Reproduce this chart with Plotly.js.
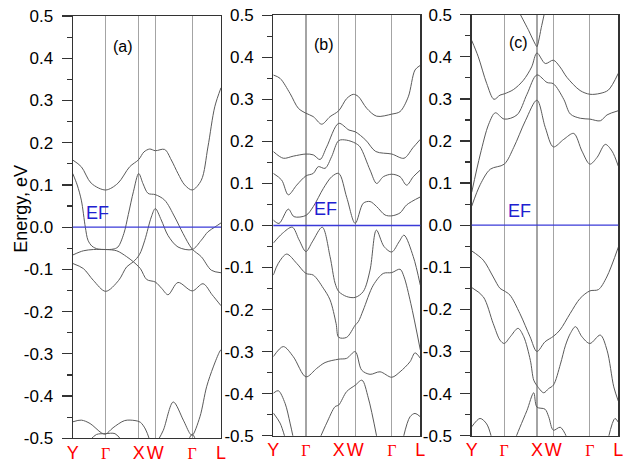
<!DOCTYPE html>
<html>
<head>
<meta charset="utf-8">
<script src="https://cdn.plot.ly/plotly-3.0.1.min.js"></script>
<style>html,body{margin:0;padding:0;background:#fff;}#plot{width:628px;height:464px;}</style>
</head>
<body>
<div id="plot"></div>
<script>
// High-symmetry points along the path (fraction of path length) and their labels
const kSym = [0, 0.222, 0.445, 0.557, 0.806, 1];
const kLabels = ['Y', 'Γ', 'X', 'W', 'Γ', 'L'];
const eTicks = [-0.5, -0.4, -0.3, -0.2, -0.1, 0.0, 0.1, 0.2, 0.3, 0.4, 0.5];
const eTickText = ['-0.5', '-0.4', '-0.3', '-0.2', '-0.1', '0.0', '0.1', '0.2', '0.3', '0.4', '0.5'];
const panelLabels = ['(a)', '(b)', '(c)'];
const fermiLevel = 0.0;

// ---- Panel (a) bands ----
const a1k = [0, 0.058, 0.125, 0.222, 0.305, 0.384, 0.445, 0.48, 0.519, 0.557, 0.620, 0.665, 0.710, 0.755, 0.806, 0.867, 0.912, 0.958, 1];
const a1e = [0.159, 0.143, 0.104, 0.088, 0.104, 0.143, 0.160, 0.178, 0.185, 0.181, 0.184, 0.159, 0.127, 0.100, 0.088, 0.111, 0.19, 0.285, 0.33];
const a2k = [0, 0.03, 0.058, 0.085, 0.103, 0.13, 0.171, 0.222, 0.272, 0.305, 0.345, 0.375, 0.41, 0.445, 0.474, 0.508, 0.557, 0.620, 0.688, 0.744, 0.806, 0.867, 0.935, 1];
const a2e = [0.127, 0.10, 0.064, 0.0, -0.031, -0.045, -0.052, -0.053, -0.052, -0.047, -0.015, 0.03, 0.085, 0.127, 0.103, 0.08, 0.077, 0.064, 0.024, -0.015, -0.052, -0.070, -0.102, -0.108];
const a3k = [0, 0.0715, 0.139, 0.222, 0.297, 0.364, 0.409, 0.456, 0.499, 0.557, 0.60, 0.643, 0.71, 0.806, 0.879, 0.94, 1];
const a3e = [-0.066, -0.056, -0.053, -0.053, -0.056, -0.070, -0.082, -0.098, -0.124, -0.130, -0.145, -0.160, -0.131, -0.151, -0.134, -0.16, -0.186];
const a4k = [0, 0.0715, 0.139, 0.222, 0.31, 0.364, 0.409, 0.45, 0.486, 0.530, 0.557, 0.597, 0.643, 0.710, 0.806, 0.867, 0.912, 0.958, 1];
const a4e = [-0.086, -0.098, -0.126, -0.152, -0.126, -0.094, -0.082, -0.065, -0.031, 0.024, 0.044, 0.017, -0.02, -0.047, -0.053, -0.031, -0.011, 0.0, 0.01];
const a5k = [0, 0.058, 0.117, 0.193, 0.222, 0.272, 0.351, 0.42, 0.456, 0.49, 0.52];
const a5e = [-0.461, -0.457, -0.465, -0.487, -0.49, -0.475, -0.458, -0.458, -0.462, -0.478, -0.505];
const a6k = [0.115, 0.16, 0.222, 0.285, 0.33];
const a6e = [-0.505, -0.491, -0.489, -0.489, -0.505];
const a7k = [0.575, 0.611, 0.678, 0.746, 0.791, 0.806, 0.858, 0.903, 0.948, 0.989, 1];
const a7e = [-0.505, -0.481, -0.414, -0.457, -0.489, -0.493, -0.449, -0.378, -0.331, -0.296, -0.29];
const a8k = [0.78, 0.806, 0.83];
const a8e = [-0.505, -0.49, -0.505];

// ---- Panel (b) bands ----
const b1k = [0, 0.046, 0.114, 0.170, 0.222, 0.272, 0.329, 0.386, 0.445, 0.499, 0.544, 0.578, 0.635, 0.703, 0.806, 0.862, 0.918, 0.964, 1];
const b1e = [0.358, 0.350, 0.314, 0.279, 0.267, 0.259, 0.241, 0.259, 0.273, 0.302, 0.312, 0.307, 0.279, 0.260, 0.265, 0.271, 0.306, 0.370, 0.381];
const b2k = [0, 0.068, 0.136, 0.222, 0.272, 0.318, 0.363, 0.445, 0.515, 0.557, 0.629, 0.697, 0.806, 0.889, 0.95, 1];
const b2e = [0.176, 0.160, 0.165, 0.170, 0.168, 0.157, 0.187, 0.243, 0.227, 0.223, 0.203, 0.176, 0.170, 0.160, 0.185, 0.205];
const b3k = [0, 0.057, 0.102, 0.159, 0.222, 0.272, 0.306, 0.352, 0.397, 0.445, 0.499, 0.557, 0.590, 0.658, 0.703, 0.748, 0.806, 0.862, 0.907, 0.952, 1];
const b3e = [0.124, 0.108, 0.073, 0.096, 0.118, 0.124, 0.140, 0.136, 0.164, 0.202, 0.203, 0.196, 0.187, 0.132, 0.100, 0.116, 0.122, 0.116, 0.096, 0.116, 0.132];
const b4k = [0, 0.039, 0.102, 0.141, 0.222, 0.272, 0.340, 0.397, 0.445, 0.50, 0.557, 0.612, 0.658, 0.703, 0.760, 0.806, 0.862, 0.907, 1];
const b4e = [0.013, 0.005, 0.039, 0.021, 0.024, 0.045, 0.088, 0.116, 0.124, 0.066, 0.005, 0.053, 0.057, 0.045, 0.025, 0.023, 0.030, 0.049, 0.068];
const b5k = [0, 0.061, 0.129, 0.175, 0.222, 0.265, 0.333, 0.386, 0.420, 0.445, 0.499, 0.557, 0.612, 0.658, 0.701, 0.753, 0.806, 0.855, 0.889, 0.952, 1];
const b5e = [-0.042, -0.019, -0.004, -0.034, -0.062, -0.039, -0.004, -0.074, -0.137, -0.157, -0.169, -0.171, -0.157, -0.106, -0.011, -0.050, -0.063, -0.039, -0.023, -0.074, -0.142];
const b6k = [0, 0.034, 0.091, 0.159, 0.222, 0.272, 0.340, 0.386, 0.427, 0.445, 0.499, 0.557, 0.578, 0.612, 0.680, 0.748, 0.806, 0.862, 0.889, 0.935, 1];
const b6e = [-0.118, -0.090, -0.068, -0.090, -0.114, -0.118, -0.149, -0.177, -0.233, -0.266, -0.266, -0.237, -0.229, -0.201, -0.142, -0.114, -0.112, -0.104, -0.122, -0.185, -0.296];
const b7k = [0, 0.068, 0.136, 0.222, 0.295, 0.352, 0.445, 0.499, 0.557, 0.601, 0.658, 0.726, 0.806, 0.862, 0.930, 0.964, 1];
const b7e = [-0.312, -0.288, -0.312, -0.360, -0.340, -0.326, -0.318, -0.316, -0.300, -0.344, -0.354, -0.348, -0.361, -0.348, -0.324, -0.303, -0.316];
const b8k = [0, 0.034, 0.080, 0.114, 0.136];
const b8e = [-0.399, -0.393, -0.423, -0.470, -0.505];
const b9k = [0, 0.046, 0.08];
const b9e = [-0.446, -0.470, -0.505];
const b10k = [0.318, 0.363, 0.420, 0.445, 0.499, 0.557, 0.603, 0.646, 0.705];
const b10e = [-0.505, -0.470, -0.431, -0.427, -0.395, -0.380, -0.368, -0.41, -0.505];
const b11k = [0.884, 0.930, 0.964, 1];
const b11e = [-0.505, -0.455, -0.447, -0.455];

// ---- Panel (c) bands ----
const c1k = [0, 0.045, 0.102, 0.152, 0.193, 0.222, 0.284, 0.352, 0.409, 0.445, 0.502, 0.557, 0.602, 0.650, 0.739, 0.806, 0.875, 0.932, 1];
const c1e = [0.439, 0.400, 0.337, 0.299, 0.309, 0.312, 0.322, 0.344, 0.376, 0.409, 0.384, 0.392, 0.376, 0.351, 0.320, 0.311, 0.313, 0.321, 0.361];
const c2k = [0, 0.059, 0.116, 0.161, 0.222, 0.309, 0.377, 0.445, 0.514, 0.557, 0.628, 0.673, 0.741, 0.806, 0.877, 0.923, 1];
const c2e = [0.078, 0.169, 0.240, 0.267, 0.252, 0.262, 0.311, 0.357, 0.339, 0.336, 0.299, 0.264, 0.254, 0.252, 0.248, 0.262, 0.272];
const c3k = [0, 0.059, 0.127, 0.222, 0.287, 0.366, 0.445, 0.502, 0.557, 0.628, 0.696, 0.752, 0.806, 0.855, 0.911, 0.957, 1];
const c3e = [0.045, 0.097, 0.133, 0.145, 0.185, 0.248, 0.297, 0.232, 0.186, 0.204, 0.218, 0.176, 0.145, 0.161, 0.192, 0.176, 0.140];
const c4k = [0.325, 0.385, 0.445, 0.475, 0.50];
const c4e = [0.505, 0.465, 0.424, 0.47, 0.51];
const c5k = [0, 0.079, 0.147, 0.193, 0.222, 0.261, 0.329, 0.398, 0.445, 0.500, 0.557, 0.602, 0.671, 0.739, 0.806, 0.864, 0.921, 1];
const c5e = [-0.061, -0.083, -0.123, -0.150, -0.156, -0.166, -0.210, -0.265, -0.300, -0.277, -0.264, -0.249, -0.210, -0.174, -0.156, -0.153, -0.123, -0.052];
const c6k = [0, 0.079, 0.147, 0.193, 0.222, 0.263, 0.316, 0.355, 0.400, 0.423, 0.445, 0.491, 0.525, 0.557, 0.605, 0.640, 0.673, 0.708, 0.752, 0.806, 0.877, 0.923, 0.969, 1];
const c6e = [-0.148, -0.170, -0.234, -0.273, -0.281, -0.265, -0.245, -0.265, -0.321, -0.368, -0.381, -0.398, -0.388, -0.380, -0.33, -0.285, -0.257, -0.241, -0.265, -0.281, -0.261, -0.297, -0.384, -0.418];
const c7k = [0.30, 0.329, 0.377, 0.423, 0.445, 0.50, 0.525, 0.557, 0.604, 0.65];
const c7e = [-0.505, -0.48, -0.44, -0.398, -0.432, -0.437, -0.455, -0.487, -0.48, -0.505];
const c8k = [0, 0.057, 0.102, 0.136];
const c8e = [-0.479, -0.459, -0.472, -0.505];
const c9k = [0.932, 0.977, 1];
const c9e = [-0.505, -0.459, -0.468];

const panels = [
  {xa: 'x', ya: 'y', bands: [[a1k,a1e],[a2k,a2e],[a3k,a3e],[a4k,a4e],[a5k,a5e],[a6k,a6e],[a7k,a7e],[a8k,a8e]]},
  {xa: 'x2', ya: 'y2', bands: [[b1k,b1e],[b2k,b2e],[b3k,b3e],[b4k,b4e],[b5k,b5e],[b6k,b6e],[b7k,b7e],[b8k,b8e],[b9k,b9e],[b10k,b10e],[b11k,b11e]]},
  {xa: 'x3', ya: 'y3', bands: [[c1k,c1e],[c2k,c2e],[c3k,c3e],[c5k,c5e],[c6k,c6e],[c7k,c7e],[c8k,c8e],[c9k,c9e]], linear: [[c4k,c4e]]}
];

const bandColor = '#5a5a5a';
const traces = [];
panels.forEach(p => {
  p.bands.forEach(b => {
    traces.push({x: b[0], y: b[1], xaxis: p.xa, yaxis: p.ya, type: 'scatter', mode: 'lines',
      line: {color: bandColor, width: 1, shape: 'spline', smoothing: 0.9}, hoverinfo: 'skip', showlegend: false});
  });
  (p.linear || []).forEach(b => {
    traces.push({x: b[0], y: b[1], xaxis: p.xa, yaxis: p.ya, type: 'scatter', mode: 'lines',
      line: {color: bandColor, width: 1, shape: 'spline', smoothing: 0.4}, hoverinfo: 'skip', showlegend: false});
  });
});

const FONT = 'Liberation Sans, Arial, sans-serif';
const frameColor = '#333';
const tickTextX = kLabels.map(s => s === 'Γ' ? '<span style="font-family:Liberation Serif, Times New Roman, serif;font-size:16px">Γ</span>' : s);

function xAxis(domain, anchor) {
  return {domain: domain, anchor: anchor, range: [0, 1], tickmode: 'array', tickvals: kSym, ticktext: tickTextX,
    ticks: '', tickangle: 0, ticklabelstandoff: -2, showgrid: true, gridcolor: '#a4a4a4', gridwidth: 1.2, zeroline: false,
    showline: true, linecolor: frameColor, linewidth: 1.2, mirror: true, automargin: false,
    tickfont: {family: FONT, size: 18, color: '#ff0000'}, fixedrange: true};
}
function yAxis(domain, anchor) {
  return {domain: domain, anchor: anchor, range: [-0.5, 0.5], tickmode: 'array', tickvals: eTicks, ticktext: eTickText,
    ticks: 'outside', ticklen: 10, tickwidth: 1.2, tickcolor: frameColor, ticklabelstandoff: 5,
    minor: {tickmode: 'linear', tick0: 0, dtick: 0.05, ticks: 'outside', ticklen: 5, tickwidth: 1.2, tickcolor: frameColor, showgrid: false},
    showgrid: false, zeroline: false,
    showline: true, linecolor: frameColor, linewidth: 1.2, mirror: true, automargin: false,
    tickfont: {family: FONT, size: 17, color: '#000'}, fixedrange: true};
}

const efColor = '#2020d0';
const shapes = ['x', 'x2', 'x3'].map((xa, i) => ({
  type: 'line', xref: xa + ' domain', yref: ['y', 'y2', 'y3'][i], x0: 0, x1: 1, y0: fermiLevel, y1: fermiLevel,
  line: {color: '#3a3ad8', width: 1.3}, layer: 'above'
}));

const annotations = [
  {xref: 'x', yref: 'y', x: 0.167, y: 0.006, text: 'EF', showarrow: false, xanchor: 'center', yanchor: 'bottom', font: {family: FONT, size: 18, color: efColor}},
  {xref: 'x2', yref: 'y2', x: 0.358, y: 0.010, text: 'EF', showarrow: false, xanchor: 'center', yanchor: 'bottom', font: {family: FONT, size: 18, color: efColor}},
  {xref: 'x3', yref: 'y3', x: 0.323, y: 0.006, text: 'EF', showarrow: false, xanchor: 'center', yanchor: 'bottom', font: {family: FONT, size: 18, color: efColor}},
  {xref: 'x', yref: 'y', x: 0.336, y: 0.428, text: panelLabels[0], showarrow: false, xanchor: 'center', yanchor: 'middle', font: {family: FONT, size: 16, color: '#000'}},
  {xref: 'x2', yref: 'y2', x: 0.343, y: 0.431, text: panelLabels[1], showarrow: false, xanchor: 'center', yanchor: 'middle', font: {family: FONT, size: 16, color: '#000'}},
  {xref: 'x3', yref: 'y3', x: 0.318, y: 0.433, text: panelLabels[2], showarrow: false, xanchor: 'center', yanchor: 'middle', font: {family: FONT, size: 16, color: '#000'}},
  {xref: 'paper', yref: 'paper', x: 0.0334, y: 0.55, text: 'Energy, eV', textangle: -90, showarrow: false, xanchor: 'center', yanchor: 'middle', font: {family: FONT, size: 18, color: '#000'}}
];

const layout = {
  width: 628, height: 464, margin: {l: 0, r: 0, t: 0, b: 0},
  paper_bgcolor: '#fff', plot_bgcolor: '#fff', showlegend: false,
  xaxis: xAxis([0.1158, 0.3519], 'y'),
  xaxis2: xAxis([0.4352, 0.6693], 'y2'),
  xaxis3: xAxis([0.7511, 0.9846], 'y3'),
  yaxis: yAxis([0.0554, 0.9655], 'x'),
  yaxis2: yAxis([0.0610, 0.9670], 'x2'),
  yaxis3: yAxis([0.0610, 0.9683], 'x3'),
  shapes: shapes,
  annotations: annotations
};

Plotly.newPlot('plot', traces, layout, {displayModeBar: false, staticPlot: true});
</script>
</body>
</html>
